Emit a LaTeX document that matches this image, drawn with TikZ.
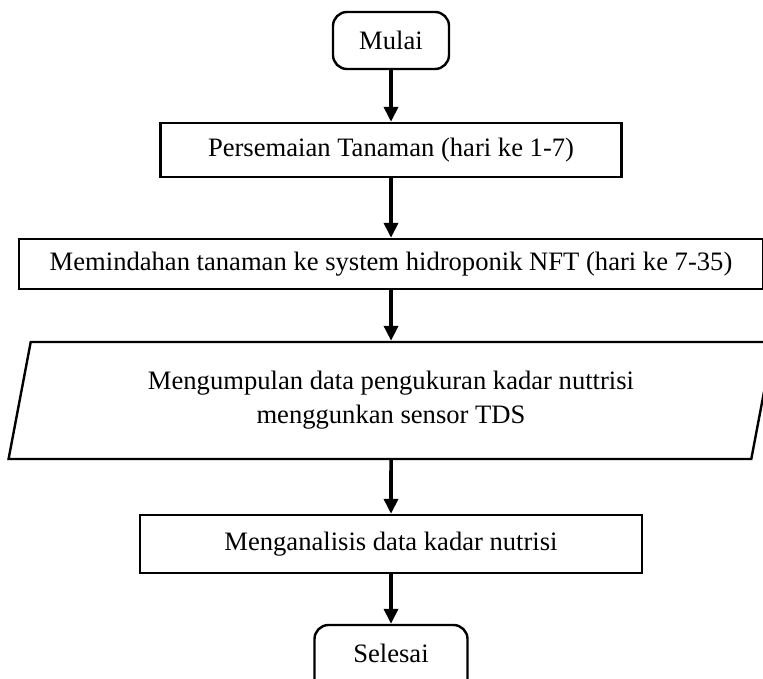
\documentclass[tikz,border=0pt]{standalone}
\usepackage{fontspec}
\setmainfont{Liberation Serif}
\usetikzlibrary{shapes.geometric,arrows.meta}
\tikzstyle{terminal} = [rectangle, draw, line width=1.2pt, rounded corners=7pt,
    minimum width=58pt, minimum height=28.5pt]
\tikzstyle{block} = [rectangle, draw, line width=1.2pt, minimum height=27pt]
\tikzstyle{data} = [trapezium, draw, line width=1.2pt, trapezium left angle=75.6,
    trapezium right angle=104.4, trapezium stretches=true,
    minimum width=382.5pt, minimum height=58.5pt, align=center]
\tikzstyle{line} = [draw, line width=1.8pt, -{Triangle[width=7pt,length=7.5pt]}]

\begin{document}
\begin{tikzpicture}[x=0.5pt, y=-0.5pt, inner sep=0pt, font=\fontsize{13.3}{17}\selectfont]
		\useasboundingbox (0,0) rectangle (763,678);
		\node [terminal] (mulai) at (391,40.5) {Mulai};
		\node [block, minimum width=230.5pt, node distance=54.75pt, below of=mulai] (semai) {Persemaian Tanaman (hari ke 1-7)};
		\node [block, minimum width=372pt, minimum height=25pt, node distance=57pt, below of=semai] (pindah) {Memindahan tanaman ke system hidroponik NFT (hari ke 7-35)};
		\node [data, node distance=68.25pt, below of=pindah] (kumpul) {Mengumpulan data pengukuran kadar nuttrisi\\menggunkan sensor TDS};
		\node [block, minimum width=251pt, minimum height=29pt, node distance=71.75pt, below of=kumpul] (analisis) {Menganalisis data kadar nutrisi};
		\node [terminal, minimum width=76.5pt, minimum height=36pt, node distance=58.5pt, below of=analisis, text depth=8pt] (selesai) {Selesai};
		
		\path [line] (mulai) -- (semai);
		\path [line] (semai) -- (pindah);
		\path [line] (pindah) -- (kumpul);
		\path [line] (kumpul) -- (analisis);
		\path [line] (analisis) -- (selesai);
	\end{tikzpicture}
\end{document}
